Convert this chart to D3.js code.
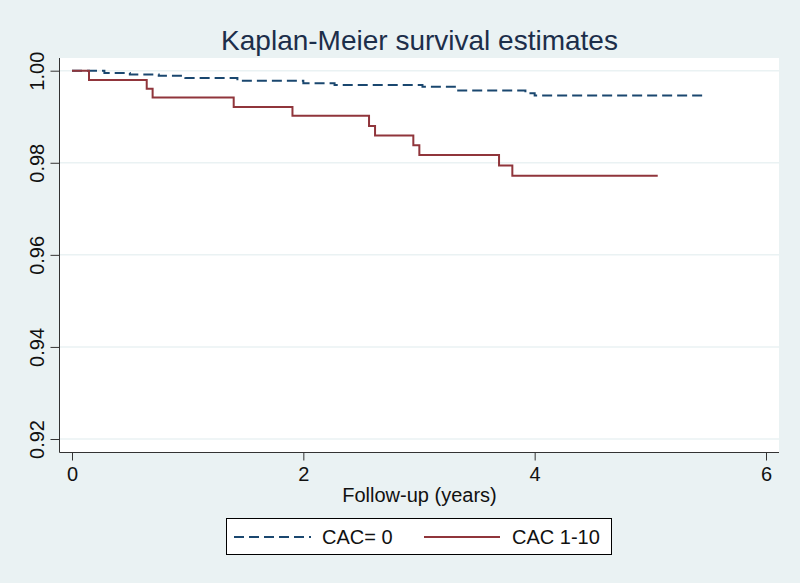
<!DOCTYPE html>
<html>
<head>
<meta charset="utf-8">
<script src="https://cdn.jsdelivr.net/npm/d3@7"></script>
<style>
  html, body { margin: 0; padding: 0; background: #eaf2f3; }
  svg { display: block; }
  text { font-family: "Liberation Sans Narrow", "Arial Narrow", "Liberation Sans", Arial, sans-serif; }
</style>
</head>
<body>
<svg id="chart" width="800" height="583"></svg>
<script>
// ---- data ----
const title = "Kaplan-Meier survival estimates";
const xLabel = "Follow-up (years)";
const seriesNames = ["CAC= 0", "CAC 1-10"];
// CAC = 0 : step times and survival after each step
const cac0Times  = [0, 0.28, 0.50, 0.75, 0.98, 1.43, 2.00, 2.27, 3.03, 3.31, 3.92, 4.00, 5.46];
const cac0Surv   = [1.0, 0.9995, 0.9992, 0.9989, 0.9984, 0.9978, 0.9973, 0.9969, 0.9965, 0.9957, 0.9951, 0.9946, 0.9946];
// CAC 1-10
const cac110Times = [0, 0.147, 0.646, 0.697, 1.398, 1.906, 2.568, 2.62, 2.951, 3.003, 3.692, 3.807, 5.064];
const cac110Surv  = [1.0, 0.9980, 0.9961, 0.9942, 0.9921, 0.9902, 0.9880, 0.9859, 0.9838, 0.9817, 0.9794, 0.9772, 0.9772];
const xTicks = [0, 2, 4, 6];
const yTicks = [0.92, 0.94, 0.96, 0.98, 1.00];

// ---- layout ----
const svg = d3.select("#chart");
const plot = { left: 59.5, right: 779, top: 58, bottom: 452.5 };

const x = d3.scaleLinear().domain([0, 6]).range([72, 766]);
const y = d3.scaleLinear().domain([0.92, 1.0]).range([439, 70.7]);

svg.append("rect").attr("x", 0).attr("y", 0).attr("width", 800).attr("height", 583).attr("fill", "#eaf2f3");
svg.append("rect")
  .attr("x", plot.left).attr("y", plot.top)
  .attr("width", plot.right - plot.left).attr("height", plot.bottom - plot.top)
  .attr("fill", "#ffffff");

// gridlines
svg.append("g").selectAll("line").data(yTicks).join("line")
  .attr("x1", plot.left).attr("x2", plot.right)
  .attr("y1", d => y(d)).attr("y2", d => y(d))
  .attr("stroke", "#eaf2f3").attr("stroke-width", 1.5);

// title
svg.append("text").attr("x", 419.5).attr("y", 50)
  .attr("text-anchor", "middle").attr("font-size", 28).attr("fill", "#1c2e4a")
  .text(title);

// y axis
const yAxis = svg.append("g").attr("transform", `translate(${plot.left},0)`)
  .call(d3.axisLeft(y).tickValues(yTicks).tickFormat(d3.format(".2f")).tickSize(9).tickSizeOuter(0));
yAxis.select(".domain").attr("d", `M0,${plot.top}V${plot.bottom}`).attr("stroke", "#333");
yAxis.selectAll(".tick line").attr("stroke", "#333");
yAxis.selectAll(".tick text")
  .attr("font-size", 20).attr("fill", "#111")
  .attr("x", null).attr("dy", null)
  .attr("text-anchor", "middle")
  .attr("transform", "translate(-16,0) rotate(-90)");

// x axis
const xAxis = svg.append("g").attr("transform", `translate(0,${plot.bottom})`)
  .call(d3.axisBottom(x).tickValues(xTicks).tickFormat(d3.format("d")).tickSize(8).tickSizeOuter(0));
xAxis.select(".domain").attr("d", `M${plot.left},0H${plot.right}`).attr("stroke", "#333");
xAxis.selectAll(".tick line").attr("stroke", "#333");
xAxis.selectAll(".tick text").attr("font-size", 20).attr("fill", "#111").attr("y", 14);

svg.append("text").attr("x", 419.5).attr("y", 502)
  .attr("text-anchor", "middle").attr("font-size", 20).attr("fill", "#111")
  .text(xLabel);

// curves
const line = d3.line().x(d => x(d[0])).y(d => y(d[1])).curve(d3.curveStepAfter);
const s0 = cac0Times.map((t, i) => [t, cac0Surv[i]]);
const s1 = cac110Times.map((t, i) => [t, cac110Surv[i]]);

svg.append("path").datum(s0).attr("d", line)
  .attr("fill", "none").attr("stroke", "#1a476f").attr("stroke-width", 2)
  .attr("stroke-dasharray", "10,5");
svg.append("path").datum(s1).attr("d", line)
  .attr("fill", "none").attr("stroke", "#90353b").attr("stroke-width", 2);

// legend
const lg = svg.append("g");
lg.append("rect").attr("x", 226.5).attr("y", 518.5).attr("width", 385).attr("height", 36)
  .attr("fill", "#ffffff").attr("stroke", "#000").attr("stroke-width", 1);
lg.append("line").attr("x1", 234).attr("x2", 311).attr("y1", 537).attr("y2", 537)
  .attr("stroke", "#1a476f").attr("stroke-width", 2).attr("stroke-dasharray", "10,5");
lg.append("text").attr("x", 322).attr("y", 544).attr("font-size", 20).attr("fill", "#111").text(seriesNames[0]);
lg.append("line").attr("x1", 424).attr("x2", 500).attr("y1", 537).attr("y2", 537)
  .attr("stroke", "#90353b").attr("stroke-width", 2);
lg.append("text").attr("x", 512).attr("y", 544).attr("font-size", 20).attr("fill", "#111").text(seriesNames[1]);
</script>
</body>
</html>
